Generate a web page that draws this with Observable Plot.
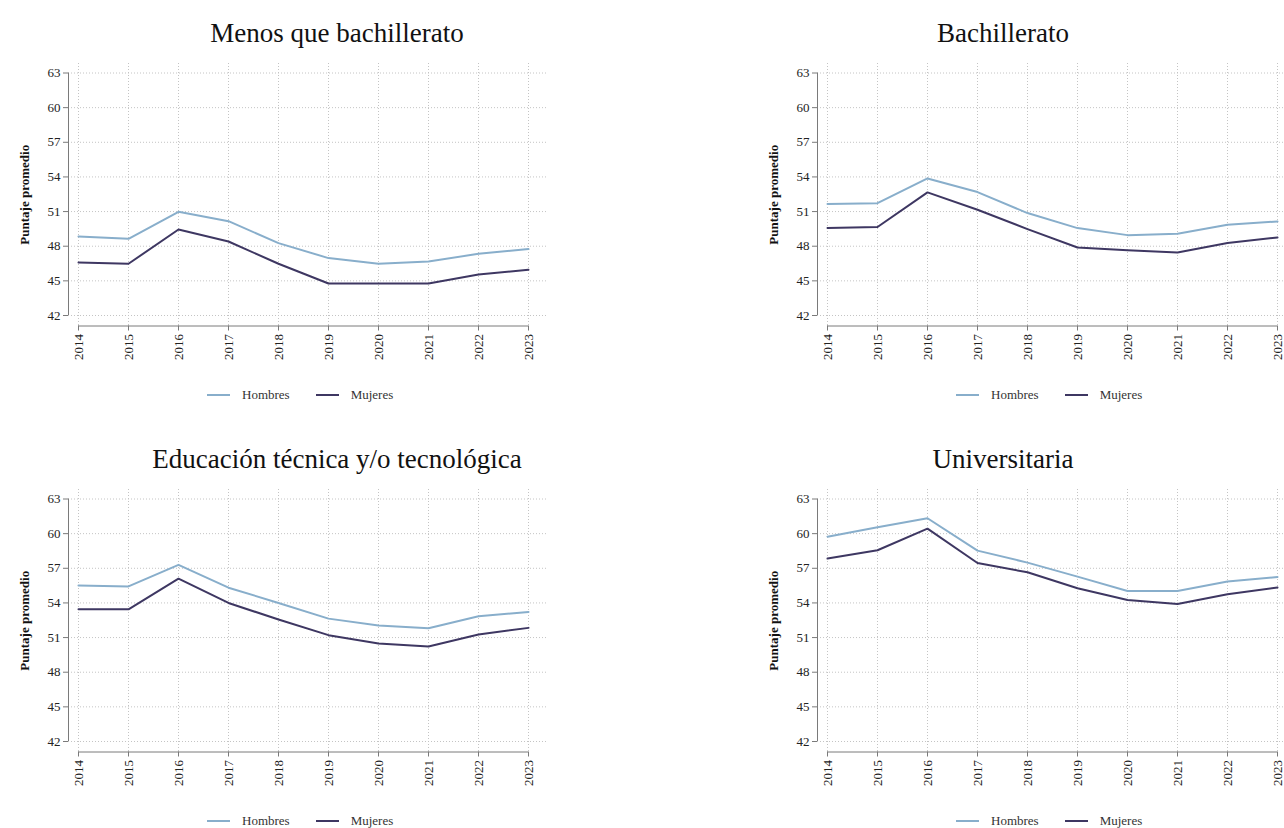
<!DOCTYPE html>
<html><head><meta charset="utf-8">
<script src="https://cdn.jsdelivr.net/npm/d3@7"></script>
<script src="https://cdn.jsdelivr.net/npm/@observablehq/plot@0.6"></script>
<style>
body{margin:0;background:#fff;font-family:"Liberation Serif","Times New Roman",serif;}
#root{position:relative;width:1284px;height:828px;overflow:hidden;background:#fff;}
.title{position:absolute;font-size:27px;color:#111;transform:translate(-50%,-50%);white-space:nowrap;line-height:1;}
.chart{position:absolute;}
.legend{position:absolute;display:flex;align-items:center;font-size:13px;color:#333;transform:translateY(-50%);white-space:nowrap;}
.legend .item{display:flex;align-items:center;margin-right:26px;}
.sw{display:inline-block;width:23px;height:0;border-top:2px solid;margin-right:12px;}
</style></head><body><div id="root"></div><script>
const years = [2014, 2015, 2016, 2017, 2018, 2019, 2020, 2021, 2022, 2023];
const seriesNames = ["Hombres", "Mujeres"];
const seriesColors = ["#88aecb", "#3e3762"];
const yTicks = [42, 45, 48, 51, 54, 57, 60, 63];
const yLabel = "Puntaje promedio";
const panelTitles = ["Menos que bachillerato", "Bachillerato", "Educación técnica y/o tecnológica", "Universitaria"];

const hombresMenos = [48.85, 48.64, 50.98, 50.17, 48.27, 46.97, 46.48, 46.68, 47.34, 47.75];
const mujeresMenos = [46.59, 46.48, 49.45, 48.41, 46.48, 44.77, 44.77, 44.77, 45.55, 45.96];
const hombresBach = [51.65, 51.73, 53.87, 52.69, 50.87, 49.57, 48.96, 49.08, 49.86, 50.15];
const mujeresBach = [49.57, 49.66, 52.66, 51.16, 49.48, 47.89, 47.66, 47.46, 48.27, 48.76];
const hombresTec = [55.52, 55.43, 57.30, 55.32, 54.00, 52.64, 52.04, 51.81, 52.85, 53.22];
const mujeresTec = [53.45, 53.45, 56.10, 54.00, 52.56, 51.21, 50.49, 50.23, 51.27, 51.84];
const hombresUni = [59.74, 60.55, 61.33, 58.53, 57.49, 56.28, 55.04, 55.04, 55.85, 56.25];
const mujeresUni = [57.84, 58.56, 60.43, 57.46, 56.65, 55.27, 54.26, 53.91, 54.75, 55.33];

const panelSeries = [
  [hombresMenos, mujeresMenos],
  [hombresBach, mujeresBach],
  [hombresTec, mujeresTec],
  [hombresUni, mujeresUni]
];

// layout
const layout = [
  {left: 0,   top: 55,  width: 560, mr: 14, ir: 18, tx: 337,  ty: 33},
  {left: 749, top: 55,  width: 535, mr: 0,  ir: 7,  tx: 1003, ty: 33},
  {left: 0,   top: 481, width: 560, mr: 14, ir: 18, tx: 337,  ty: 459},
  {left: 749, top: 481, width: 535, mr: 0,  ir: 7,  tx: 1003, ty: 459}
];

const root = document.getElementById("root");
const axisColor = "#7a7a7a";
const gridStyle = {stroke: "#c4c4c4", strokeOpacity: 1, strokeDasharray: "1,2", strokeWidth: 1};

panelTitles.forEach((title, p) => {
  const L = layout[p];
  const [h, m] = panelSeries[p];
  const data = years.flatMap((yr, i) => [
    {year: yr, value: h[i], sexo: seriesNames[0]},
    {year: yr, value: m[i], sexo: seriesNames[1]}
  ]);

  const t = document.createElement("div");
  t.className = "title";
  t.style.left = L.tx + "px";
  t.style.top = L.ty + "px";
  t.textContent = title;
  root.appendChild(t);

  const chart = Plot.plot({
    width: L.width,
    height: 310,
    marginLeft: 68,
    marginRight: L.mr,
    marginTop: 8,
    marginBottom: 39.5,
    style: {fontFamily: "'Liberation Serif', 'Times New Roman', serif", fontSize: "13px", background: "transparent", color: "#222"},
    x: {domain: [2014, 2023], insetLeft: 10, insetRight: L.ir},
    y: {domain: [42, 63], insetTop: 9.5, insetBottom: 10.5},
    color: {domain: seriesNames, range: seriesColors},
    marks: [
      Plot.gridX(years, gridStyle),
      Plot.gridY(yTicks, gridStyle),
      Plot.ruleX([2014], {y1: 42, y2: 63, dx: -10, stroke: axisColor}),
      Plot.ruleY([42], {x1: 2014, x2: 2023, dy: 10.5, stroke: axisColor}),
      Plot.axisY(yTicks, {tickSize: 5, tickPadding: 3, stroke: axisColor, fill: "#222", label: null}),
      Plot.axisX(years, {tickSize: 5, tickPadding: 3, tickRotate: -90, tickFormat: d => String(d), stroke: axisColor, fill: "#222", label: null}),
      Plot.line(data, {x: "year", y: "value", z: "sexo", stroke: "sexo", strokeWidth: 2}),
      Plot.text([yLabel], {frameAnchor: "left", textAnchor: "middle", dx: -44, rotate: -90, fontWeight: "bold", fontSize: 13, fill: "#111"})
    ]
  });
  chart.classList.add("chart");
  chart.style.left = L.left + "px";
  chart.style.top = L.top + "px";
  root.appendChild(chart);

  const lg = document.createElement("div");
  lg.className = "legend";
  lg.style.left = (L.left + 207) + "px";
  lg.style.top = (L.top + 340) + "px";
  seriesNames.forEach((name, i) => {
    const it = document.createElement("span");
    it.className = "item";
    const sw = document.createElement("span");
    sw.className = "sw";
    sw.style.borderTopColor = seriesColors[i];
    it.appendChild(sw);
    it.appendChild(document.createTextNode(name));
    lg.appendChild(it);
  });
  root.appendChild(lg);
});
</script></body></html>
